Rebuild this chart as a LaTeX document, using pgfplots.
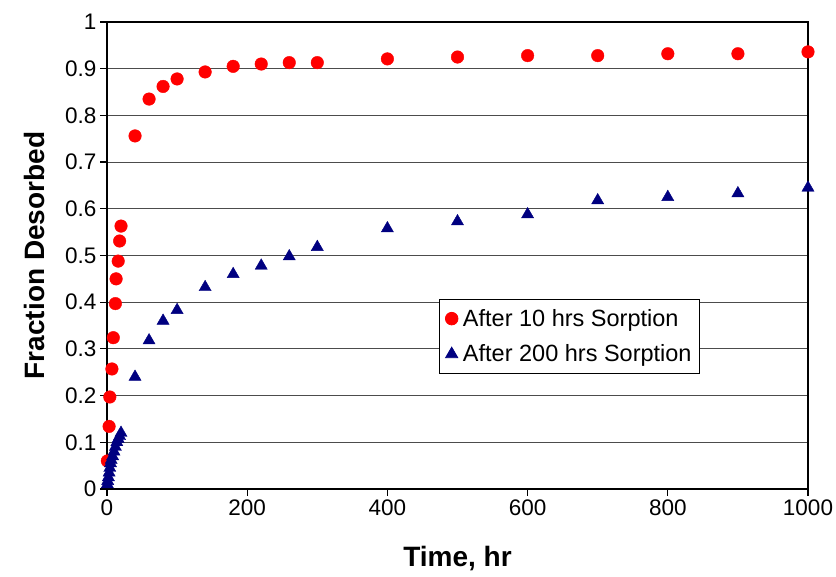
\documentclass[border=0pt]{standalone}
\usepackage{fontspec}
\setmainfont{Liberation Sans}
\usepackage{pgfplots}
\pgfplotsset{compat=1.18}
\usetikzlibrary{calc}
\definecolor{navyb}{RGB}{0,0,128}
\begin{document}
\begin{tikzpicture}
\begin{axis}[name=ax, scale only axis, width=701pt, height=467pt,
  xmin=0, xmax=1000, ymin=0, ymax=1,
  clip=false,
  xtick={0,200,400,600,800,1000},
  ytick={0,0.1,0.2,0.3,0.4,0.5,0.6,0.7,0.8,0.9,1},
  ymajorgrids, grid style={black!70, line width=0.8pt},
  axis line style={black, line width=1.2pt},
  tick style={black, line width=1.2pt},
  tick align=outside, major tick length=7pt,
  xtick pos=bottom, ytick pos=left,
  tick label style={font=\fontsize{22.5}{22.5}\selectfont},
  /pgf/number format/assume math mode=true,
  /pgf/number format/1000 sep={},
  xlabel={Time, hr}, ylabel={Fraction Desorbed},
  label style={font=\fontsize{28}{28}\selectfont\bfseries},
  xlabel style={at={(axis description cs:0.5,-0.148)}, anchor=center},
  ylabel style={at={(axis description cs:-0.103,0.5)}, anchor=center, rotate=0},
  legend style={at={(axis description cs:0.4736,0.4069)}, anchor=north west,
    draw=black, line width=0.8pt, fill=white,
    font=\fontsize{23.5}{23.5}\selectfont, inner xsep=6pt, inner ysep=8pt,
    row sep=13pt,
    /tikz/every odd column/.append style={column sep=3pt}},
  legend cell align=left,
]
\addplot[only marks, mark=*, mark size=6.3pt, color=red, mark options={fill=red, draw=red}]
coordinates {(0.5,0.06)(3,0.134)(4,0.197)(7,0.257)(9,0.324)(12,0.397)(13,0.45)(16,0.488)(18,0.531)(20,0.563)
(40,0.756)(60,0.835)(80,0.862)(100,0.878)(140,0.893)(180,0.905)(220,0.91)(260,0.913)(300,0.913)
(400,0.921)(500,0.925)(600,0.928)(700,0.928)(800,0.932)(900,0.932)(1000,0.936)};
\addlegendentry{After 10 hrs Sorption}
\addplot[only marks, mark=triangle*, mark size=7pt, color=navyb, mark options={fill=navyb, draw=navyb}]
coordinates {(0.5,0.01)(1,0.017)(2,0.025)(3,0.035)(4,0.045)(5,0.055)(6,0.062)(8,0.07)(10,0.08)(12,0.09)(14,0.1)(16,0.107)(18,0.113)(20,0.12)
(40,0.24)(60,0.318)(80,0.36)(100,0.383)(140,0.432)(180,0.46)(220,0.478)(260,0.498)(300,0.518)
(400,0.558)(500,0.573)(600,0.588)(700,0.618)(800,0.625)(900,0.633)(1000,0.645)};
\addlegendentry{After 200 hrs Sorption}
\end{axis}
\pgfresetboundingbox
\path ($(ax.south west)+(-107pt,-88pt)$) rectangle ($(ax.north east)+(28pt,22pt)$);
\end{tikzpicture}
\end{document}
